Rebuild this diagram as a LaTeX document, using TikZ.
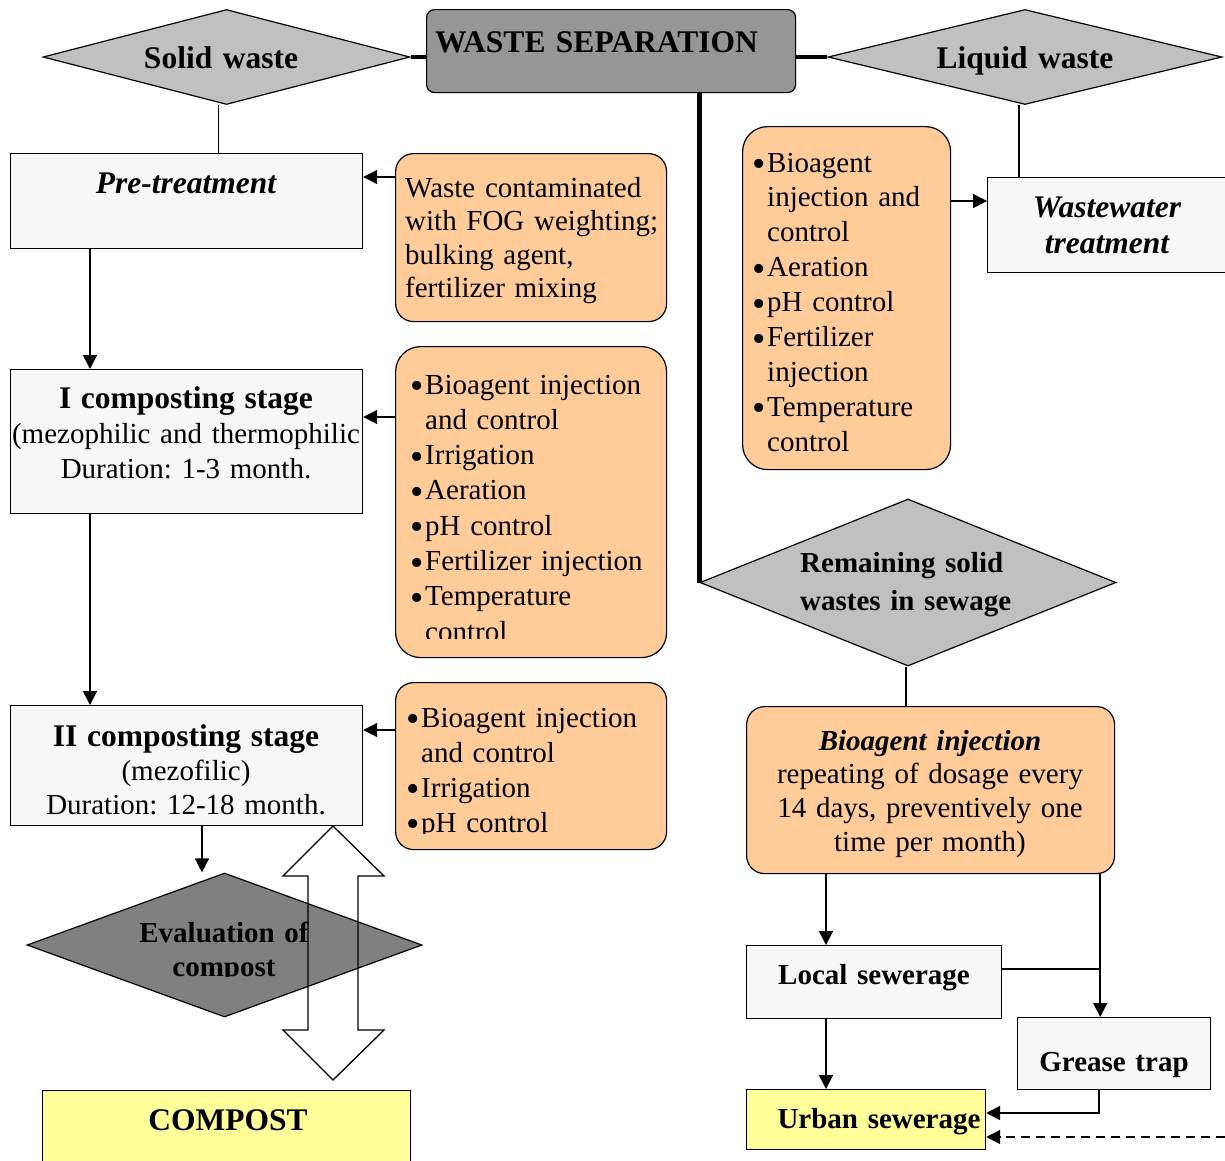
\documentclass[tikz,border=0pt]{standalone}
\usepackage{fontspec}
\setmainfont{Liberation Serif}
\usetikzlibrary{arrows.meta,shapes.geometric}
\definecolor{lgray}{HTML}{C0C0C0}
\definecolor{mgray}{HTML}{969696}
\definecolor{dgray}{HTML}{808080}
\definecolor{orng}{HTML}{FFCC99}
\definecolor{pale}{HTML}{F7F7F7}
\definecolor{yel}{HTML}{FFFF99}
\frenchspacing
\newcommand{\fnorm}{\fontsize{29}{34.5}\selectfont}
\newcommand{\fbig}{\fontsize{31.5}{34.5}\selectfont\bfseries}
\newcommand{\bul}{\makebox[15pt][l]{\raisebox{-4.5pt}{\fontsize{38}{0}\selectfont\textbullet}}}
\newcommand{\bulin}{\hspace*{15pt}}
\begin{document}
\begin{tikzpicture}[x=1pt,y=-1pt,
 box/.style={draw, line width=1.2pt, inner sep=0pt, anchor=north west},
 pbox/.style={box, fill=pale},
 obox/.style={box, fill=orng, rounded corners=#1},
 obox/.default=18pt,
 dia/.style={draw, diamond, line width=1.2pt, inner sep=0pt, fill=lgray},
 txt/.style={inner sep=0pt, font=\fnorm, anchor=base west, align=left, text width=#1},
 ctxt/.style={inner sep=0pt, font=\fnorm, anchor=base, align=center, text width=#1},
 arr/.style={line width=1.5pt, -{Triangle[length=14pt,width=14pt]}},
 thk/.style={line width=4.5pt},
 ln/.style={line width=1.2pt}]
\useasboundingbox (0,0) rectangle (1225,1160);
\fill[white] (0,0) rectangle (1225,1160);

% ---- shapes ----
\node[dia, minimum width=367pt, minimum height=95pt] (solid) at (226.5,57) {};
\node[dia, minimum width=394pt, minimum height=95pt] (liq) at (1025,57) {};
\node[box, fill=mgray, rounded corners=8pt, minimum width=369pt, minimum height=83pt] (ws) at (426,9) {};
\node[pbox, minimum width=352pt, minimum height=95pt] (pre) at (10,153) {};
\node[obox, minimum width=271pt, minimum height=168pt] (o1) at (395,153) {};
\node[pbox, minimum width=352pt, minimum height=144pt] (ic1) at (10,369) {};
\node[obox=25pt, minimum width=271pt, minimum height=311pt] (o2) at (395,346) {};
\node[pbox, minimum width=352pt, minimum height=120pt] (ic2) at (10,705) {};
\node[obox, minimum width=271pt, minimum height=167pt] (o3) at (395,682) {};
\node[dia, fill=dgray, minimum width=395pt, minimum height=144pt] (eval) at (224.5,945) {};
\node[box, fill=yel, minimum width=368pt, minimum height=90pt] (comp) at (42,1090) {};
\node[obox=25pt, minimum width=208pt, minimum height=343pt] (o4) at (742,126) {};
\node[pbox, minimum width=255pt, minimum height=95pt] (ww) at (987,177) {};
\node[dia, minimum width=416pt, minimum height=167pt] (rem) at (908,582.5) {};
\node[obox, minimum width=368pt, minimum height=167pt] (bio) at (746,706) {};
\node[pbox, minimum width=255pt, minimum height=73pt] (local) at (746,945) {};
\node[pbox, minimum width=193pt, minimum height=72pt] (grease) at (1017,1017) {};
\node[box, fill=yel, minimum width=239pt, minimum height=60pt] (urban) at (746,1089) {};

% ---- texts ----
\node[ctxt=300pt, font=\fbig] (tsolid) at (221,68) {Solid waste};
\node[ctxt=300pt, font=\fbig] (tliq) at (1025,68) {Liquid waste};
\node[txt=400pt, font=\fbig] (tws) at (435,52) {WASTE SEPARATION};
\node[ctxt=340pt, font=\fbig\itshape] (tpre) at (186,193) {Pre-treatment};
\node[txt=300pt, font=\fontsize{29}{33.5}\selectfont] (to1) at (405,197)
  {Waste contaminated\\with FOG weighting;\\bulking agent,\\fertilizer mixing};
\node[ctxt=380pt, font=\fontsize{29}{35}\selectfont] (tic1) at (186,408)
  {{\fbig I composting stage}\\(mezophilic and thermophilic\\Duration: 1-3 month.};
\begin{scope}
\clip (395,346) rectangle (666,638);
\node[txt=300pt, font=\fontsize{29}{35.3}\selectfont] (to2) at (410,394)
  {\bul Bioagent injection\\\bulin and control\\\bul Irrigation\\\bul Aeration\\\bul pH control\\\bul Fertilizer injection\\\bul Temperature\\\bulin control};
\end{scope}
\node[ctxt=380pt, font=\fontsize{29}{34}\selectfont] (tic2) at (186,746)
  {{\fbig II composting stage}\\(mezofilic)\\Duration: 12-18 month.};
\begin{scope}
\clip (395,682) rectangle (666,833);
\node[txt=300pt, font=\fontsize{29}{35}\selectfont] (to3) at (406,727)
  {\bul Bioagent injection\\\bulin and control\\\bul Irrigation\\\bul pH control};
\end{scope}
\begin{scope}
\clip (0,860) rectangle (450,976);
\node[ctxt=300pt, font=\fontsize{29}{34}\selectfont\bfseries] (teval) at (224,942)
  {Evaluation of\\compost};
\end{scope}
\node[ctxt=340pt, font=\fbig] (tcomp) at (228,1130) {COMPOST};
\node[txt=300pt, font=\fontsize{29}{34.9}\selectfont] (to4) at (752,172)
  {\bul Bioagent\\\bulin injection and\\\bulin control\\\bul Aeration\\\bul pH control\\\bul Fertilizer\\\bulin injection\\\bul Temperature\\\bulin control};
\node[ctxt=300pt, font=\fontsize{31.5}{36}\selectfont\bfseries\itshape] (tww) at (1107,217)
  {Wastewater\\treatment};
\node[txt=400pt, font=\fontsize{29}{38}\selectfont\bfseries] (trem) at (800,572)
  {Remaining solid\\wastes in sewage};
\node[ctxt=380pt, font=\fontsize{29}{33.7}\selectfont] (tbio) at (930,750)
  {{\bfseries\itshape Bioagent injection}\\repeating of dosage every\\14 days, preventively one\\time per month)};
\node[ctxt=300pt, font=\fnorm\bfseries] (tlocal) at (874,984) {Local sewerage};
\node[ctxt=300pt, font=\fnorm\bfseries] (tgrease) at (1114,1071) {Grease trap};
\node[ctxt=300pt, font=\fnorm\bfseries] (turban) at (879,1128) {Urban sewerage};

% ---- connectors ----
\draw[thk] (solid.east) -- (solid.east -| ws.west);
\draw[thk] (ws.east |- liq.west) -- (liq.west);
\draw[thk] (rem.west |- ws.south) -- (rem.west);
\draw[ln] ([xshift=-8pt]solid.south) -- ([xshift=-8pt]solid.south |- pre.north);
\draw[ln] ([xshift=-6pt]liq.south) -- ([xshift=-6pt]liq.south |- ww.north);
\draw[ln] ([xshift=-2pt]rem.south) -- ([xshift=-2pt]rem.south |- bio.north);
\draw[arr] ([yshift=-24pt]o1.north west) -- ([yshift=-24pt]o1.north west -| pre.east);
\draw[arr] ([yshift=-71pt]o2.north west) -- ([yshift=-71pt]o2.north west -| ic1.east);
\draw[arr] ([yshift=-48pt]o3.north west) -- ([yshift=-48pt]o3.north west -| ic2.east);
\draw[arr] ([yshift=-75pt]o4.north east) -- ([yshift=-75pt]o4.north east -| ww.west);
\draw[arr] ([xshift=80pt]pre.south west) -- ([xshift=80pt]pre.south west |- ic1.north);
\draw[arr] ([xshift=80pt]ic1.south west) -- ([xshift=80pt]ic1.south west |- ic2.north);
\draw[arr] ([xshift=192pt]ic2.south west) -- ([xshift=192pt]ic2.south west |- eval.north);
\draw[arr] ([xshift=80pt]bio.south west) -- ([xshift=80pt]bio.south west |- local.north);
\coordinate (gsplit) at ([xshift=-15pt]bio.south east);
\draw[arr] (gsplit) -- (gsplit |- grease.north);
\draw[ln] ([yshift=-24pt]local.north east) -- ([yshift=-24pt]local.north east -| gsplit);
\draw[arr] ([xshift=80pt]local.south west) -- ([xshift=80pt]local.south west |- urban.north);
\draw[arr, line width=2.2pt] ([xshift=82pt]grease.south west) |- ([yshift=-24pt]urban.north east);
\coordinate (dstart) at (1225,1137);
\draw[arr, dashed, dash pattern=on 9pt off 6pt] (dstart) -- (dstart -| urban.east);

% ---- double block arrow ----
\draw[line width=1.3pt, line join=miter] (333,826) -- (384,876) -- (358,876) -- (358,1030) -- (384,1030)
  -- (333,1080) -- (283,1030) -- (308,1030) -- (308,876) -- (283,876) -- cycle;
\end{tikzpicture}
\end{document}
